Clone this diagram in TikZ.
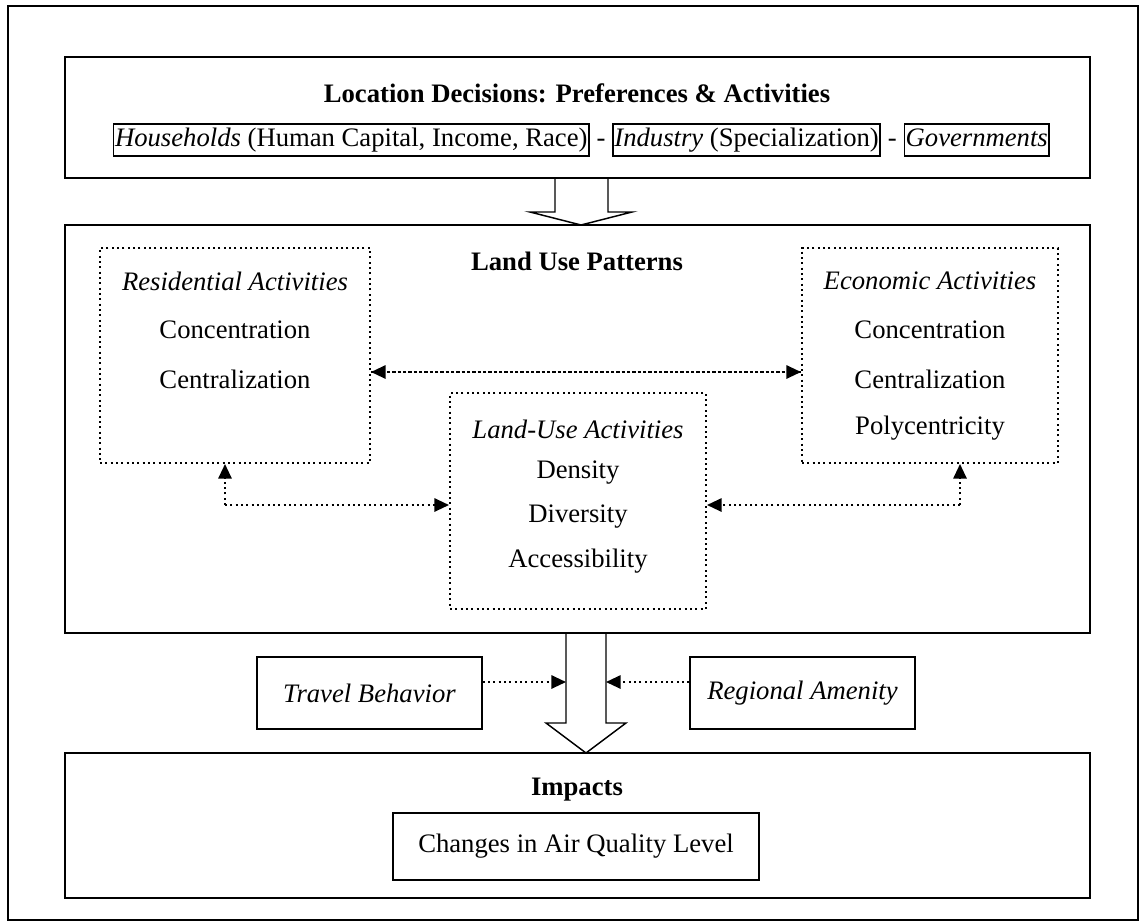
\documentclass[tikz,border=0pt]{standalone}
\usepackage{fontspec}
\setmainfont{Liberation Serif}
\usetikzlibrary{arrows.meta,positioning,fit}

\begin{document}
\begin{tikzpicture}[x=0.75pt,y=-0.75pt,
        font=\fontsize{20}{24}\selectfont,
        box/.style={draw, line width=1.1pt, inner sep=0pt},
        dotbox/.style={draw, line width=1.5pt, dash pattern=on 1.5pt off 2.5pt, inner sep=0pt},
        tag/.style={draw, line width=1.1pt, inner xsep=1pt, inner ysep=2.5pt, text height=14.5pt, text depth=4.5pt},
        sep/.style={inner xsep=5pt, inner ysep=2.5pt, text height=14.5pt, text depth=4.5pt},
        title/.style={font=\fontsize{20}{24}\selectfont\bfseries},
        link/.style={line width=1.5pt, dash pattern=on 1.5pt off 2.5pt},
        tip/.style={-{Triangle[length=11pt,width=10pt]}},
        bigarrow/.style={draw, line width=1.1pt, line join=miter}]
            \useasboundingbox (0,0) rectangle (1140,922);
            \node[box, line width=1.4pt, fit={(8,6) (1138,920)}] (frame) {};

            \node[box, fit={(65,57) (1090,178)}] (loc) {};
            \node[title] (loctitle) at (577,93) {Location Decisions: Preferences \& Activities};
            \node[tag, anchor=west] (hh) at (113,140) {\textit{Households} (Human Capital, Income, Race)};
            \node[sep, right=0pt of hh] (d1) {-};
            \node[tag, right=0pt of d1] (ind) {\textit{Industry} (Specialization)};
            \node[sep, right=0pt of ind] (d2) {-};
            \node[tag, right=0pt of d2] (gov) {\textit{Governments}};

            \node[box, fit={(65,225) (1090,633)}] (lup) {};
            \node[title] (luptitle) at (577,261) {Land Use Patterns};

            \node[dotbox, fit={(100,248) (370,463)}] (res) {};
            \node (resname) at (235,281) {\textit{Residential Activities}};
            \node (resconc) at (235,330) {Concentration};
            \node (rescent) at (235,379) {Centralization};

            \node[dotbox, fit={(802,248) (1058,463)}] (econ) {};
            \node (econname) at (930,281) {\textit{Economic Activities}};
            \node (econconc) at (930,330) {Concentration};
            \node (econcent) at (930,379) {Centralization};
            \node (econpoly) at (930,428) {Polycentricity};

            \node[dotbox, fit={(450,393) (706,609)}] (lu) {};
            \node (luname) at (578,429) {\textit{Land-Use Activities}};
            \node (ludens) at (578,473) {Density};
            \node (ludiv) at (578,517) {Diversity};
            \node (luacc) at (578,561) {Accessibility};

            \coordinate (mid) at (578,372);
            \coordinate (rl) at (225,505);
            \coordinate (er) at (960,505);
            \draw[link, tip] (res.east |- mid) -- (econ.west |- mid);
            \draw[link, tip] (econ.west |- mid) -- (res.east |- mid);
            \draw[link, tip] (rl) -- (rl -| lu.west);
            \draw[link, tip] (rl) -- (rl |- res.south);
            \draw[link, tip] (er) -- (er -| lu.east);
            \draw[link, tip] (er) -- (er |- econ.south);

            \draw[bigarrow] (555,178) -- (555,212) -- (530,212) -- (581,225) -- (632,212) -- (608,212) -- (608,178);
            \draw[bigarrow] (566,633) -- (566,723) -- (546,723) -- (586,753) -- (626,723) -- (606,723) -- (606,633);

            \node[box, fit={(257,657) (482,729)}] (tb) {};
            \node (tbtext) at (tb) {\textit{Travel Behavior}};
            \node[box, fit={(690,657) (915,729)}] (ra) {};
            \node (ratext) at (ra) {\textit{Regional Amenity}};
            \coordinate (sl) at (566,682);
            \coordinate (sr) at (606,682);
            \draw[link, tip] (tb.east |- sl) -- (sl);
            \draw[link, tip] (ra.west |- sr) -- (sr);

            \node[box, fit={(65,753) (1090,898)}] (imp) {};
            \node[title] (imptitle) at (577,790) {Impacts};
            \node[box, fit={(393,813) (759,880)}] (air) {};
            \node (airtext) at (air) {Changes in Air Quality Level};
        \end{tikzpicture}
\end{document}
